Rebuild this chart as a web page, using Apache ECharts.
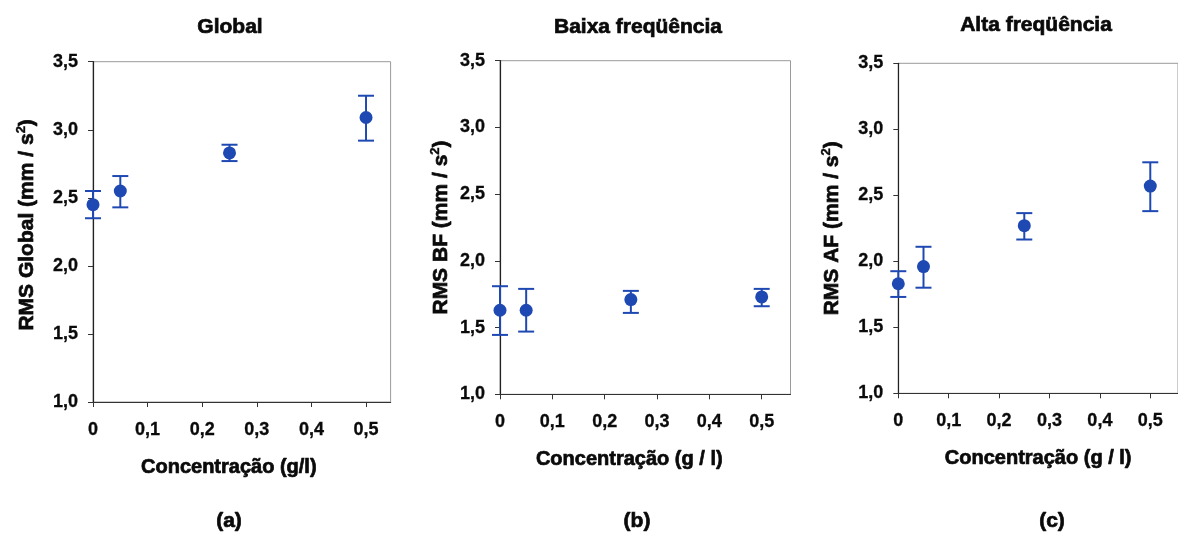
<!DOCTYPE html>
<html>
<head>
<meta charset="utf-8">
<script src="https://cdn.jsdelivr.net/npm/echarts@6/dist/echarts.min.js"></script>
<style>html,body{margin:0;padding:0;background:#fff;}#c{width:1178px;height:534px;}</style>
</head>
<body>
<div id="c"></div>
<script>
// ---- data ----
const conc = [0, 0.05, 0.25, 0.5];
const globalMean = [2.45, 2.55, 2.83, 3.09];
const globalLow  = [2.35, 2.43, 2.77, 2.92];
const globalHigh = [2.55, 2.66, 2.89, 3.25];
const bfMean = [1.63, 1.63, 1.71, 1.73];
const bfLow  = [1.445, 1.47, 1.61, 1.66];
const bfHigh = [1.81, 1.79, 1.775, 1.79];
const afMean = [1.83, 1.96, 2.27, 2.57];
const afLow  = [1.73, 1.80, 2.165, 2.38];
const afHigh = [1.925, 2.11, 2.365, 2.75];
const xTicks = [0, 0.1, 0.2, 0.3, 0.4, 0.5];
const titles = ['Global', 'Baixa freqüência', 'Alta freqüência'];
const yNames = ['RMS Global (mm / s', 'RMS BF (mm / s', 'RMS AF (mm / s'];
const xNames = ['Concentração (g/l)', 'Concentração (g / l)', 'Concentração (g / l)'];
const panelLabels = ['(a)', '(b)', '(c)'];

// ---- layout / style ----
const grids = [
  {left: 93, top: 61.7, width: 297.6, height: 340.3, xmax: 0.545, yGap: 54, yPad: [0, 0, 0, 14], xPad: [0, 26, 0, 0]},
  {left: 500, top: 60.7, width: 290.5, height: 333.6, xmax: 0.555, yGap: 47, yPad: [0, 0, 0, 0], xPad: [0, 32, 0, 0]},
  {left: 898.3, top: 63.3, width: 291.3, height: 330, xmax: 0.555, yGap: 54, yPad: [0, 0, 0, 0], xPad: [0, 0, 0, 0]}
];
const titlePos = [[230, 27], [638, 27], [1036, 25]];
const labelPos = [[229, 521], [637, 521], [1052, 521]];
const dotColor = '#1f49b2';
const txt = '#0a0a0a';
const nameFont = 'Liberation Sans';
const tickFont = 'Liberation Sans';

const fmt = v => (v === 0 ? '0' : v.toFixed(1).replace('.', ','));

const means = [globalMean, bfMean, afMean];
const lows = [globalLow, bfLow, afLow];
const highs = [globalHigh, bfHigh, afHigh];

const heavy = {textBorderColor: txt, textBorderWidth: 0.7};
const tickStyle = {fontFamily: tickFont, fontWeight: 'bold', fontSize: 18, color: txt, textBorderColor: txt, textBorderWidth: 0.3};

const option = {
  backgroundColor: '#fff',
  animation: false,
  grid: grids.map(g => ({left: g.left, top: g.top, width: g.width, height: g.height,
    show: true, borderColor: '#9a9a9a', borderWidth: 1, backgroundColor: 'transparent', containLabel: false})),
  xAxis: grids.map((g, i) => ({
    type: 'value', gridIndex: i, min: 0, max: g.xmax,
    name: xNames[i], nameLocation: 'middle', nameGap: 55,
    nameTextStyle: Object.assign({fontFamily: nameFont, fontWeight: 'bold', fontSize: 20, color: txt, padding: g.xPad}, heavy),
    axisLine: {show: true, onZero: false, lineStyle: {color: '#333', width: 1.2}},
    axisTick: {show: true, inside: false, length: 5, customValues: xTicks, lineStyle: {color: '#333'}},
    axisLabel: Object.assign({customValues: xTicks, formatter: fmt, margin: 19}, tickStyle),
    splitLine: {show: false}
  })),
  yAxis: grids.map((g, i) => ({
    type: 'value', gridIndex: i, min: 1, max: 3.5, interval: 0.5,
    name: '{n|' + yNames[i] + '}{s|2}{n|)}', nameLocation: 'middle', nameGap: g.yGap,
    nameTextStyle: {color: txt, padding: g.yPad, rich: {
      n: Object.assign({fontFamily: nameFont, fontWeight: 'bold', fontSize: 21, color: txt, lineHeight: 24}, heavy),
      s: {fontFamily: nameFont, fontWeight: 'bold', fontSize: 13, color: txt, verticalAlign: 'top', lineHeight: 24, textBorderColor: txt, textBorderWidth: 0.4}
    }},
    axisLine: {show: true, onZero: false, lineStyle: {color: '#222', width: 1.2}},
    axisTick: {show: true, inside: false, length: 5, lineStyle: {color: '#333'}},
    axisLabel: Object.assign({formatter: fmt, margin: 15}, tickStyle),
    splitLine: {show: false}
  })),
  series: [].concat(
    grids.map((g, i) => ({
      type: 'custom', xAxisIndex: i, yAxisIndex: i, clip: false, z: 2,
      data: conc.map((c, k) => [c, lows[i][k], highs[i][k]]),
      renderItem: function (params, api) {
        const x = api.value(0);
        const pHi = api.coord([x, api.value(2)]);
        const pLo = api.coord([x, api.value(1)]);
        const w = 8;
        const st = {stroke: dotColor, lineWidth: 2};
        return {type: 'group', children: [
          {type: 'line', shape: {x1: pHi[0], y1: pHi[1], x2: pLo[0], y2: pLo[1]}, style: st},
          {type: 'line', shape: {x1: pHi[0] - w, y1: pHi[1], x2: pHi[0] + w, y2: pHi[1]}, style: st},
          {type: 'line', shape: {x1: pLo[0] - w, y1: pLo[1], x2: pLo[0] + w, y2: pLo[1]}, style: st}
        ]};
      }
    })),
    grids.map((g, i) => ({
      type: 'scatter', xAxisIndex: i, yAxisIndex: i, symbol: 'circle', symbolSize: 13, z: 3,
      itemStyle: {color: dotColor, opacity: 1},
      data: conc.map((c, k) => [c, means[i][k]])
    }))
  ),
  graphic: [].concat(
    titles.map((t, i) => ({type: 'text', x: titlePos[i][0], y: titlePos[i][1],
      style: {text: t, fontFamily: nameFont, fontWeight: 'bold', fontSize: 21, fill: txt, stroke: txt, lineWidth: 0.7,
        align: 'center', verticalAlign: 'middle'}})),
    panelLabels.map((t, i) => ({type: 'text', x: labelPos[i][0], y: labelPos[i][1],
      style: {text: t, fontFamily: nameFont, fontWeight: 'bold', fontSize: 21, fill: txt, stroke: txt, lineWidth: 0.7,
        align: 'center', verticalAlign: 'middle'}}))
  )
};

const chart = echarts.init(document.getElementById('c'), null, {renderer: 'canvas'});
chart.setOption(option);
</script>
</body>
</html>
